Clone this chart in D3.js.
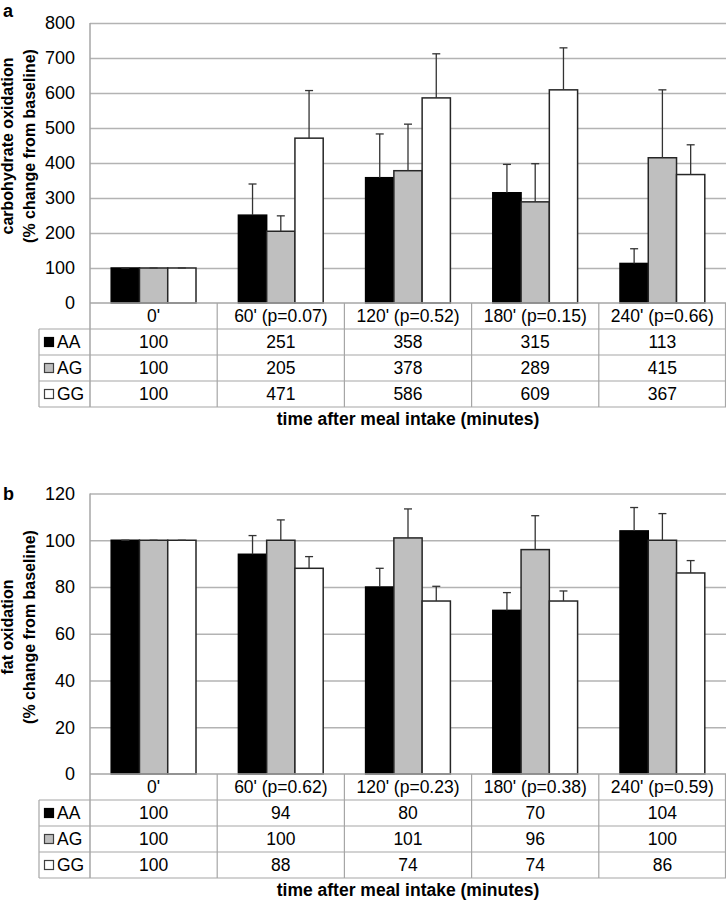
<!DOCTYPE html>
<html>
<head>
<meta charset="utf-8">
<script src="https://cdn.jsdelivr.net/npm/d3@7"></script>
<style>
  body { margin: 0; background: #fff; }
  svg { display: block; font-family: "Liberation Sans", Arial, sans-serif; }
</style>
</head>
<body>
<svg id="chart" width="726" height="904"></svg>
<script>
// categories / series
var timepoints = ["0'", "60'", "120'", "180'", "240'"];
var genotypes = ["AA", "AG", "GG"];

// panel a: carbohydrate oxidation
var carbP = ["", "0.07", "0.52", "0.15", "0.66"];
var carbAA = [100, 251, 358, 315, 113];
var carbAG = [100, 205, 378, 289, 415];
var carbGG = [100, 471, 586, 609, 367];
var carbErrAA = [0, 89, 125, 81, 42];
var carbErrAG = [0, 44, 133, 109, 194];
var carbErrGG = [0, 136, 126, 120, 85];
var carbTicks = [0, 100, 200, 300, 400, 500, 600, 700, 800];

// panel b: fat oxidation
var fatP = ["", "0.62", "0.23", "0.38", "0.59"];
var fatAA = [100, 94, 80, 70, 104];
var fatAG = [100, 100, 101, 96, 100];
var fatGG = [100, 88, 74, 74, 86];
var fatErrAA = [0, 8, 8, 7.6, 10];
var fatErrAG = [0, 8.7, 12.4, 14.5, 11.4];
var fatErrGG = [0, 5, 6.3, 4.3, 5.3];
var fatTicks = [0, 20, 40, 60, 80, 100, 120];

var fills = { AA: "#000000", AG: "#bfbfbf", GG: "#ffffff" };
var strokes = { AA: "#000000", AG: "#262626", GG: "#262626" };

var svg = d3.select("#chart");

var size = {
    left: 90,
    right: 726,
    labelLeft: 39,
    rowH: 26
};

function drawPanel(cfg) {
    var g = svg.append("g");

    var x = d3.scaleBand()
        .domain(timepoints)
        .range([size.left, size.right]);

    var xSub = d3.scaleBand()
        .domain(genotypes)
        .range([0, x.bandwidth()])
        .paddingOuter(0.75);

    var y = d3.scaleLinear()
        .domain([0, d3.max(cfg.ticks)])
        .range([cfg.bottom, cfg.top]);

    // gridlines + tick labels
    var yAxis = d3.axisLeft(y)
        .tickValues(cfg.ticks)
        .tickSizeInner(-(size.right - size.left))
        .tickSizeOuter(0)
        .tickPadding(15);

    var ax = g.append("g")
        .attr("transform", "translate(" + size.left + ",0)")
        .call(yAxis);
    ax.select(".domain").remove();
    ax.selectAll(".tick line")
        .attr("stroke", "#b3b3b3")
        .attr("stroke-width", 1.5)
        .filter(function(d) { return d === 0; }).remove();
    ax.selectAll(".tick text")
        .attr("fill", "#000")
        .style("font-size", "18px")
        .style("font-family", "'Liberation Sans', Arial, sans-serif");

    // bars
    var rows = genotypes.map(function(gt, i) {
        return { key: gt, values: cfg.values[i], errs: cfg.errs[i] };
    });

    var barData = [];
    rows.forEach(function(r) {
        timepoints.forEach(function(t, j) {
            barData.push({ key: r.key, t: t, v: r.values[j], e: r.errs[j] });
        });
    });

    g.selectAll("rect.bar")
        .data(barData)
        .enter()
        .append("rect")
        .attr("class", "bar")
        .attr("x", function(d) { return x(d.t) + xSub(d.key); })
        .attr("y", function(d) { return y(d.v); })
        .attr("width", xSub.bandwidth())
        .attr("height", function(d) { return y(0) - y(d.v); })
        .attr("fill", function(d) { return fills[d.key]; })
        .attr("stroke", function(d) { return strokes[d.key]; })
        .attr("stroke-width", 1.5);

    // error bars (upper only)
    var eb = g.selectAll("g.err")
        .data(barData)
        .enter()
        .append("g")
        .attr("class", "err")
        .attr("stroke", "#333")
        .attr("stroke-width", 1.3);
    eb.append("line")
        .attr("x1", function(d) { return x(d.t) + xSub(d.key) + xSub.bandwidth() / 2; })
        .attr("x2", function(d) { return x(d.t) + xSub(d.key) + xSub.bandwidth() / 2; })
        .attr("y1", function(d) { return y(d.v); })
        .attr("y2", function(d) { return y(d.v + d.e); });
    eb.append("line")
        .attr("x1", function(d) { return x(d.t) + xSub(d.key) + xSub.bandwidth() / 2 - 4; })
        .attr("x2", function(d) { return x(d.t) + xSub(d.key) + xSub.bandwidth() / 2 + 4; })
        .attr("y1", function(d) { return y(d.v + d.e); })
        .attr("y2", function(d) { return y(d.v + d.e); });

    // data table
    var tb = cfg.bottom;
    var tableBottom = tb + size.rowH * 4;
    var lineColor = "#a6a6a6";

    // horizontal lines
    g.append("line")
        .attr("x1", size.left).attr("x2", size.right)
        .attr("y1", tb).attr("y2", tb)
        .attr("stroke", lineColor).attr("stroke-width", 1.5);
    [1, 2, 3, 4].forEach(function(k) {
        g.append("line")
            .attr("x1", size.labelLeft).attr("x2", size.right)
            .attr("y1", tb + k * size.rowH).attr("y2", tb + k * size.rowH)
            .attr("stroke", lineColor).attr("stroke-width", 1.2);
    });
    // vertical lines
    g.append("line")
        .attr("x1", size.left).attr("x2", size.left)
        .attr("y1", cfg.top).attr("y2", tableBottom)
        .attr("stroke", lineColor).attr("stroke-width", 1.5);
    g.append("line")
        .attr("x1", size.labelLeft).attr("x2", size.labelLeft)
        .attr("y1", tb + size.rowH).attr("y2", tableBottom)
        .attr("stroke", lineColor).attr("stroke-width", 1.2);
    timepoints.slice(1).forEach(function(t) {
        g.append("line")
            .attr("x1", x(t)).attr("x2", x(t))
            .attr("y1", tb).attr("y2", tableBottom)
            .attr("stroke", lineColor).attr("stroke-width", 1.2);
    });
    g.append("line")
        .attr("x1", size.right - 0.5).attr("x2", size.right - 0.5)
        .attr("y1", tb).attr("y2", tableBottom)
        .attr("stroke", lineColor).attr("stroke-width", 1.2);

    // header labels
    g.selectAll("text.cat")
        .data(timepoints)
        .enter()
        .append("text")
        .attr("class", "cat")
        .attr("x", function(d) { return x(d) + x.bandwidth() / 2; })
        .attr("y", tb + size.rowH / 2)
        .attr("dy", "0.35em")
        .attr("text-anchor", "middle")
        .style("font-size", "17.5px")
        .text(function(d, i) { return cfg.p[i] ? d + " (p=" + cfg.p[i] + ")" : d; });

    // rows
    rows.forEach(function(r, i) {
        var ry = tb + size.rowH * (i + 1) + size.rowH / 2;
        g.append("rect")
            .attr("x", 44.5).attr("y", ry - 4.5)
            .attr("width", 9).attr("height", 9)
            .attr("fill", fills[r.key])
            .attr("stroke", r.key === "AA" ? "#000" : "#404040")
            .attr("stroke-width", 1.2);
        g.append("text")
            .attr("x", 57).attr("y", ry).attr("dy", "0.35em")
            .style("font-size", "17.5px")
            .text(r.key);
        g.selectAll(null)
            .data(r.values)
            .enter()
            .append("text")
            .attr("x", function(d, j) { return x(timepoints[j]) + x.bandwidth() / 2; })
            .attr("y", ry).attr("dy", "0.35em")
            .attr("text-anchor", "middle")
            .style("font-size", "17.5px")
            .text(function(d) { return d; });
    });

    // x title
    g.append("text")
        .attr("x", (size.left + size.right) / 2)
        .attr("y", tableBottom + 18)
        .attr("text-anchor", "middle")
        .style("font-size", "17.5px")
        .style("font-weight", "bold")
        .text("time after meal intake (minutes)");

    // y title (two lines)
    cfg.yTitle.forEach(function(line, i) {
        g.append("text")
            .attr("transform", "translate(" + (13 + i * 22) + "," + cfg.titleY + ") rotate(-90)")
            .attr("text-anchor", "middle")
            .style("font-size", "16px")
            .style("font-weight", "bold")
            .text(line);
    });

    // panel letter
    g.append("text")
        .attr("x", 3)
        .attr("y", cfg.letterY)
        .style("font-size", "18px")
        .style("font-weight", "bold")
        .text(cfg.letter);
}

drawPanel({
    top: 23, bottom: 303,
    ticks: carbTicks,
    values: [carbAA, carbAG, carbGG],
    errs: [carbErrAA, carbErrAG, carbErrGG],
    p: carbP,
    yTitle: ["carbohydrate oxidation", "(% change from baseline)"],
    titleY: 146,
    letter: "a", letterY: 17
});

drawPanel({
    top: 493.5, bottom: 774,
    ticks: fatTicks,
    values: [fatAA, fatAG, fatGG],
    errs: [fatErrAA, fatErrAG, fatErrGG],
    p: fatP,
    yTitle: ["fat oxidation", "(% change from baseline)"],
    titleY: 627,
    letter: "b", letterY: 500
});
</script>
</body>
</html>
